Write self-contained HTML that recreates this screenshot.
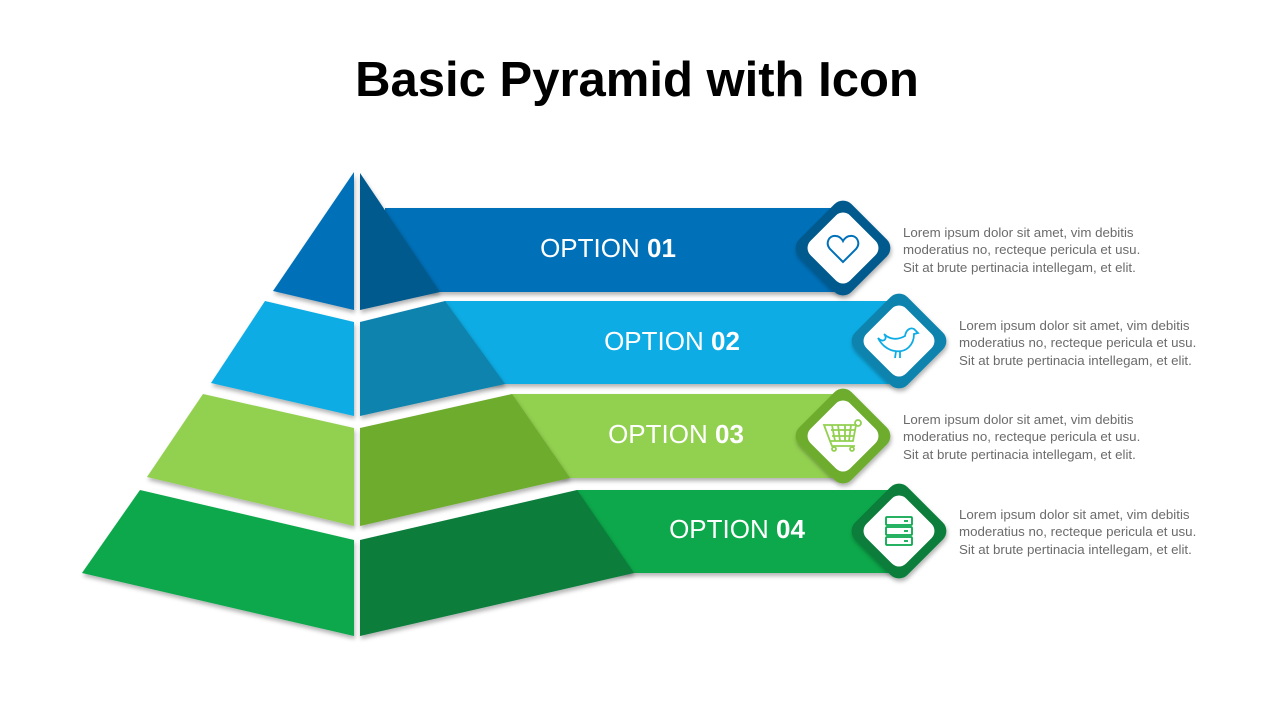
<!DOCTYPE html>
<html><head><meta charset="utf-8"><style>
html,body{margin:0;padding:0;background:#fff;width:1280px;height:720px;overflow:hidden}
</style></head><body>
<svg width="1280" height="720" viewBox="0 0 1280 720" xmlns="http://www.w3.org/2000/svg" font-family="Liberation Sans, sans-serif">
<defs>
<filter id="sh" x="-20%" y="-20%" width="140%" height="140%"><feDropShadow dx="1" dy="3" stdDeviation="2" flood-color="#000" flood-opacity="0.3"/></filter>
</defs>
<text x="637" y="96" text-anchor="middle" font-size="49" font-weight="bold" fill="#000">Basic Pyramid with Icon</text>

<g filter="url(#sh)">
<rect x="385" y="208" width="460" height="84" fill="#0070B8"/>
<rect x="445" y="301" width="450" height="83" fill="#0EACE4"/>
<rect x="512" y="394" width="333" height="84" fill="#92D050"/>
<rect x="577" y="490" width="318" height="83" fill="#08A84C"/>
</g>

<g filter="url(#sh)">
<polygon points="354,172 273,291 354,310" fill="#0070B8"/>
<polygon points="265,301 354,322 354,416 211,383" fill="#0EACE4"/>
<polygon points="203,394 354,428 354,526 147,477" fill="#92D050"/>
<polygon points="140,490 354,540 354,636 82,573" fill="#08A84C"/>
<polygon points="360,173 440,292 360,310" fill="#005A8E"/>
<polygon points="360,322 445,301 505,384 360,416" fill="#0D83AE"/>
<polygon points="360,428 512,394 570,478 360,526" fill="#6EAC2E"/>
<polygon points="360,540 577,490 634,573 360,636" fill="#077D3A"/>
</g>

<g fill="#fff" font-size="26" text-anchor="middle">
<text x="608" y="257">OPTION <tspan font-weight="bold">01</tspan></text>
<text x="672" y="350">OPTION <tspan font-weight="bold">02</tspan></text>
<text x="676" y="443">OPTION <tspan font-weight="bold">03</tspan></text>
<text x="737" y="538">OPTION <tspan font-weight="bold">04</tspan></text>
</g>

<g filter="url(#sh)">
<rect x="806" y="211" width="74" height="74" rx="12" fill="#005A8E" transform="rotate(45 843 248)"/>
<rect x="862" y="304" width="74" height="74" rx="12" fill="#0D83AE" transform="rotate(45 899 341)"/>
<rect x="806" y="399" width="74" height="74" rx="12" fill="#6EAC2E" transform="rotate(45 843 436)"/>
<rect x="862" y="494" width="74" height="74" rx="12" fill="#077D3A" transform="rotate(45 899 531)"/>
</g>
<rect x="815" y="220" width="56" height="56" rx="10" fill="#fff" transform="rotate(45 843 248)"/>
<rect x="871" y="313" width="56" height="56" rx="10" fill="#fff" transform="rotate(45 899 341)"/>
<rect x="815" y="408" width="56" height="56" rx="10" fill="#fff" transform="rotate(45 843 436)"/>
<rect x="871" y="503" width="56" height="56" rx="10" fill="#fff" transform="rotate(45 899 531)"/>

<path d="M843,262 L830,249 C825,243 829,235 836,236 C839,236 842,239 843,241 C844,239 847,236 850,236 C857,235 861,243 856,249 Z" fill="none" stroke="#0070B8" stroke-width="2"/>
<g fill="none" stroke="#0EACE4" stroke-width="1.8">
<path d="M878,338 C884,344 888,338 884,334 C890,340 898,340 905,336 C906,330 910,327 914,329 L918,333 L914,334 C914,345 906,353 895,351 C887,350 881,344 878,338 Z"/>
<path d="M896,351 L895,358 M900,351 L900,358"/>
</g>
<g fill="none" stroke="#92D050" stroke-width="1.8">
<path d="M824,425 L856,425 L853,441 L830,441 Z M830,441 L832,446 L855,446"/>
<path d="M831,430 L855,430 M832,436 L854,436 M832,425 L835,441 M838,425 L840,441 M845,425 L845,441 M851,425 L849,441"/>
<circle cx="858" cy="423" r="3"/><circle cx="834" cy="449" r="2"/><circle cx="852" cy="449" r="2"/>
</g>
<g fill="none" stroke="#08A84C" stroke-width="1.8">
<rect x="886" y="517" width="26" height="8" rx="1"/>
<rect x="886" y="527" width="26" height="8" rx="1"/>
<rect x="886" y="537" width="26" height="8" rx="1"/>
<path d="M904,521 L908,521 M904,531 L908,531 M904,541 L908,541"/>
</g>

<g fill="#6b6b6b" font-size="13.3">
<text x="903" y="237">Lorem ipsum dolor sit amet, vim debitis</text>
<text x="903" y="254">moderatius no, recteque pericula et usu.</text>
<text x="903" y="272">Sit at brute pertinacia intellegam, et elit.</text>
<text x="959" y="330">Lorem ipsum dolor sit amet, vim debitis</text>
<text x="959" y="347">moderatius no, recteque pericula et usu.</text>
<text x="959" y="365">Sit at brute pertinacia intellegam, et elit.</text>
<text x="903" y="424">Lorem ipsum dolor sit amet, vim debitis</text>
<text x="903" y="441">moderatius no, recteque pericula et usu.</text>
<text x="903" y="459">Sit at brute pertinacia intellegam, et elit.</text>
<text x="959" y="519">Lorem ipsum dolor sit amet, vim debitis</text>
<text x="959" y="536">moderatius no, recteque pericula et usu.</text>
<text x="959" y="554">Sit at brute pertinacia intellegam, et elit.</text>
</g>
</svg>
</body></html>
